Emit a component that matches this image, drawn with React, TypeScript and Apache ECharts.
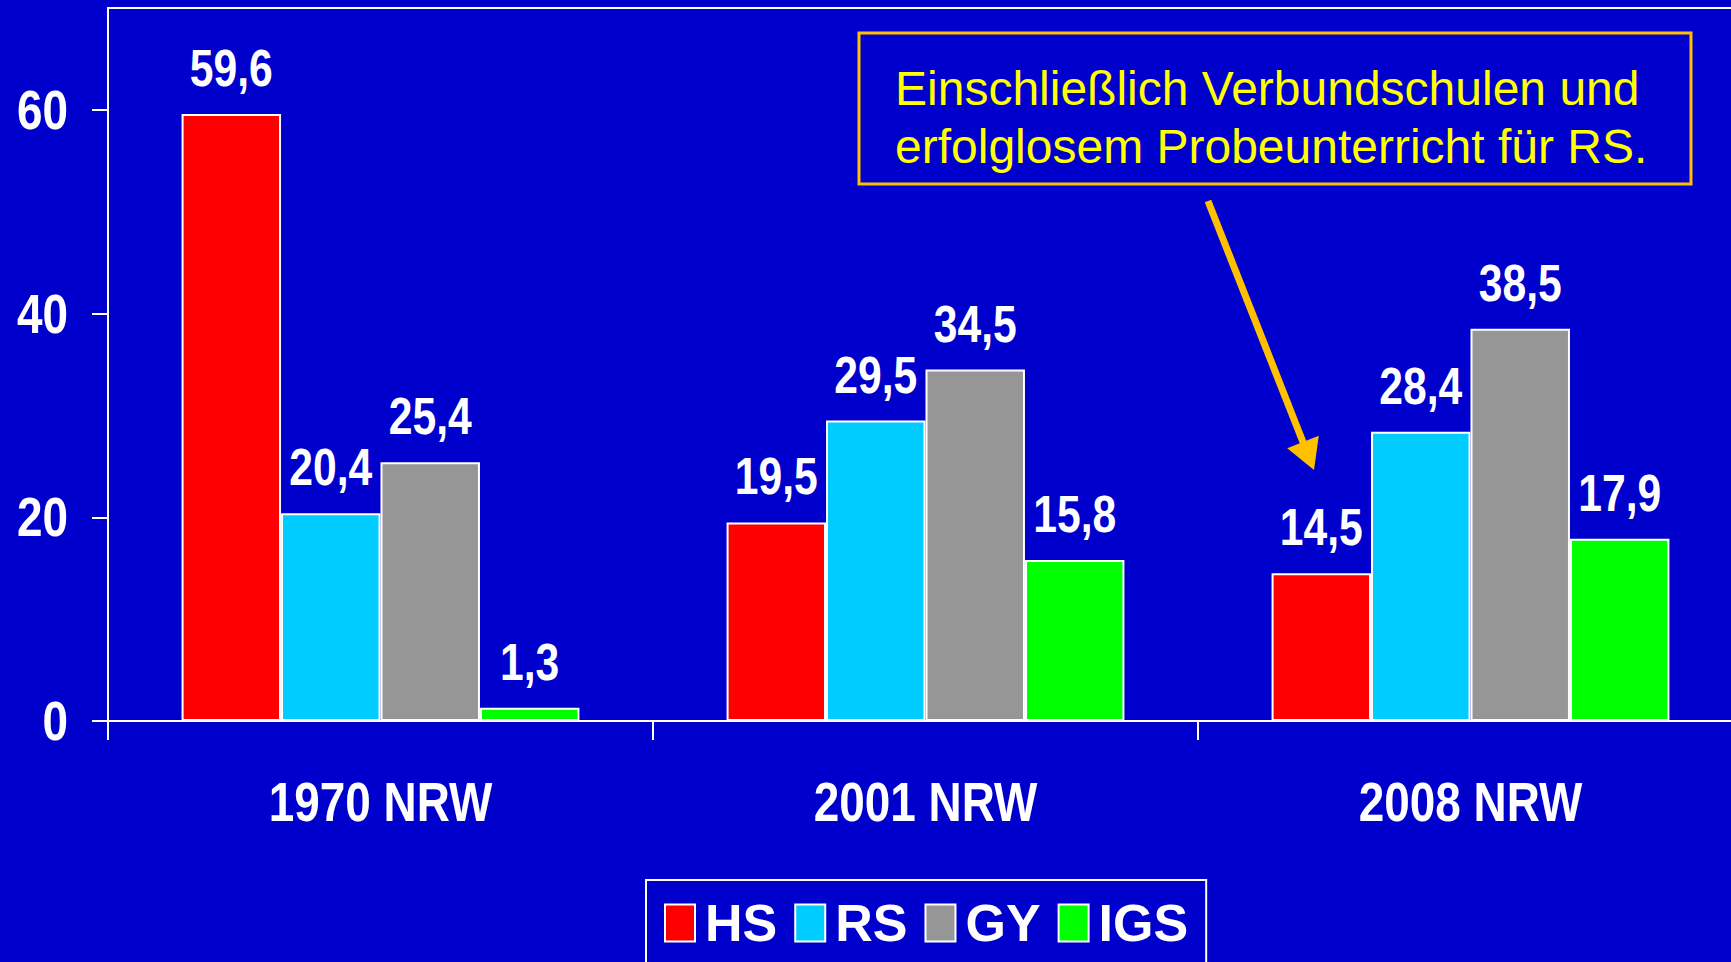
import React, { useEffect, useRef } from "react";
import * as echarts from "echarts";

const categories = ["1970 NRW", "2001 NRW", "2008 NRW"];
const seriesNames = ["HS", "RS", "GY", "IGS"];
const hsValues = [59.6, 19.5, 14.5];
const rsValues = [20.4, 29.5, 28.4];
const gyValues = [25.4, 34.5, 38.5];
const igsValues = [1.3, 15.8, 17.9];
const yTicks = [0, 20, 40, 60];
const noteLines = ["Einschließlich Verbundschulen und", "erfolglosem Probeunterricht für RS."];

const colors = ["#FF0000", "#00CCFF", "#969696", "#00FF00"];
const BOLD = '"Liberation Sans", Arial, sans-serif';
const REG = '"Liberation Sans", Arial, sans-serif';
const NARROW_SCALE = 0.82;
const CATEGORY_GAP = 0.27;

const fmt = (v: number) => Number(v).toFixed(1).replace(".", ",");

export default function App() {
  const ref = useRef<HTMLDivElement>(null);
  useEffect(() => {
    document.body.style.margin = "0";
    const chart = echarts.init(ref.current!, null, { renderer: "svg" });
    const data = [hsValues, rsValues, gyValues, igsValues];
    const labelRows: number[][] = [];
    categories.forEach((_, ci) => data.forEach((arr, si) => labelRows.push([ci, arr[ci], si])));
    const catRows = categories.map((_, ci) => [ci, 0]);
    const yRows = yTicks.map((v) => [0, v]);

    const tip = [1314, 470];
    const start = [1208, 201];
    const dx = tip[0] - start[0];
    const dy = tip[1] - start[1];
    const len = Math.hypot(dx, dy);
    const ux = dx / len, uy = dy / len;
    const px = -uy, py = ux;
    const base = [tip[0] - 30 * ux, tip[1] - 30 * uy];

    const textStyle = (text: string, size: number, align: string, vAlign: string) => ({
      text,
      fill: "#FFFFFF",
      fontSize: size,
      fontWeight: "bold",
      fontFamily: BOLD,
      align,
      verticalAlign: vAlign,
    });

    chart.setOption({
      animation: false,
      backgroundColor: "#0000CC",
      grid: {
        left: 108,
        top: 8,
        right: -12,
        bottom: 241,
        outerBoundsMode: "none",
        containLabel: false,
        show: true,
        borderColor: "#FFFFFF",
        borderWidth: 2,
        backgroundColor: "transparent",
      },
      legend: {
        data: seriesNames,
        left: 646,
        top: 880,
        padding: [17, 18],
        borderColor: "#FFFFFF",
        borderWidth: 2,
        itemWidth: 30,
        itemHeight: 37,
        itemGap: 17,
        icon: "rect",
        itemStyle: { borderColor: "#FFFFFF", borderWidth: 2 },
        textStyle: {
          color: "#FFFFFF",
          fontSize: 52,
          fontWeight: "bold",
          fontFamily: BOLD,
          padding: [0, 0, 0, 5],
        },
      },
      xAxis: {
        type: "category",
        data: categories,
        axisLine: { lineStyle: { color: "#FFFFFF", width: 2 } },
        axisTick: { show: true, length: 19, lineStyle: { color: "#FFFFFF", width: 2 } },
        axisLabel: { show: false },
      },
      yAxis: {
        type: "value",
        min: 0,
        max: 70,
        interval: 10,
        splitLine: { show: false },
        axisLine: { show: true, lineStyle: { color: "#FFFFFF", width: 2 } },
        axisTick: {
          show: true,
          length: 16,
          customValues: yTicks,
          lineStyle: { color: "#FFFFFF", width: 2 },
        },
        axisLabel: { show: false },
      },
      series: [
        ...seriesNames.map((name, i) => ({
          name,
          type: "bar",
          data: data[i],
          barGap: "0%",
          barCategoryGap: `${CATEGORY_GAP * 100}%`,
          itemStyle: { color: colors[i], borderColor: "#FFFFFF", borderWidth: 2 },
          label: { show: false },
        })),
        {
          name: "valueLabels",
          type: "custom",
          clip: false,
          silent: true,
          data: labelRows,
          z: 10,
          renderItem: (params: any, api: any) => {
            const ci = api.value(0);
            const v = api.value(1);
            const si = api.value(2);
            const pt = api.coord([ci, v]);
            const band = api.size([1, 0])[0];
            const bw = (band * (1 - CATEGORY_GAP)) / 4;
            return {
              type: "text",
              x: pt[0] + (si - 1.5) * bw,
              y: pt[1] - 20,
              scaleX: NARROW_SCALE,
              style: textStyle(fmt(v), 52, "center", "bottom"),
            };
          },
        },
        {
          name: "categoryLabels",
          type: "custom",
          clip: false,
          silent: true,
          data: catRows,
          renderItem: (params: any, api: any) => {
            const ci = api.value(0);
            const pt = api.coord([ci, 0]);
            return {
              type: "text",
              x: pt[0],
              y: pt[1] + 53,
              scaleX: NARROW_SCALE,
              style: textStyle(categories[ci], 56, "center", "top"),
            };
          },
        },
        {
          name: "yLabels",
          type: "custom",
          clip: false,
          silent: true,
          data: yRows,
          renderItem: (params: any, api: any) => {
            const v = api.value(1);
            const pt = api.coord([0, v]);
            return {
              type: "text",
              x: params.coordSys.x - 40,
              y: pt[1],
              scaleX: NARROW_SCALE,
              style: textStyle(String(v), 56, "right", "middle"),
            };
          },
        },
      ],
      graphic: [
        {
          type: "rect",
          shape: { x: 859, y: 33, width: 832, height: 151 },
          style: { fill: "transparent", stroke: "#FFC000", lineWidth: 3 },
        },
        ...noteLines.map((t, i) => ({
          type: "text",
          x: 895,
          y: 88 + i * 58,
          style: {
            text: t,
            fill: "#FFFF00",
            fontSize: 48,
            fontFamily: REG,
            verticalAlign: "middle",
            align: "left",
          },
        })),
        {
          type: "line",
          shape: { x1: start[0], y1: start[1], x2: base[0] + 2 * ux, y2: base[1] + 2 * uy },
          style: { stroke: "#FFC000", lineWidth: 7 },
        },
        {
          type: "polygon",
          shape: {
            points: [
              [base[0] + 17 * px, base[1] + 17 * py],
              [base[0] - 17 * px, base[1] - 17 * py],
              tip,
            ],
          },
          style: { fill: "#FFC000" },
        },
      ],
    });
    return () => chart.dispose();
  }, []);
  return <div ref={ref} style={{ position: "fixed", left: 0, top: 0, width: 1731, height: 962 }} />;
}
